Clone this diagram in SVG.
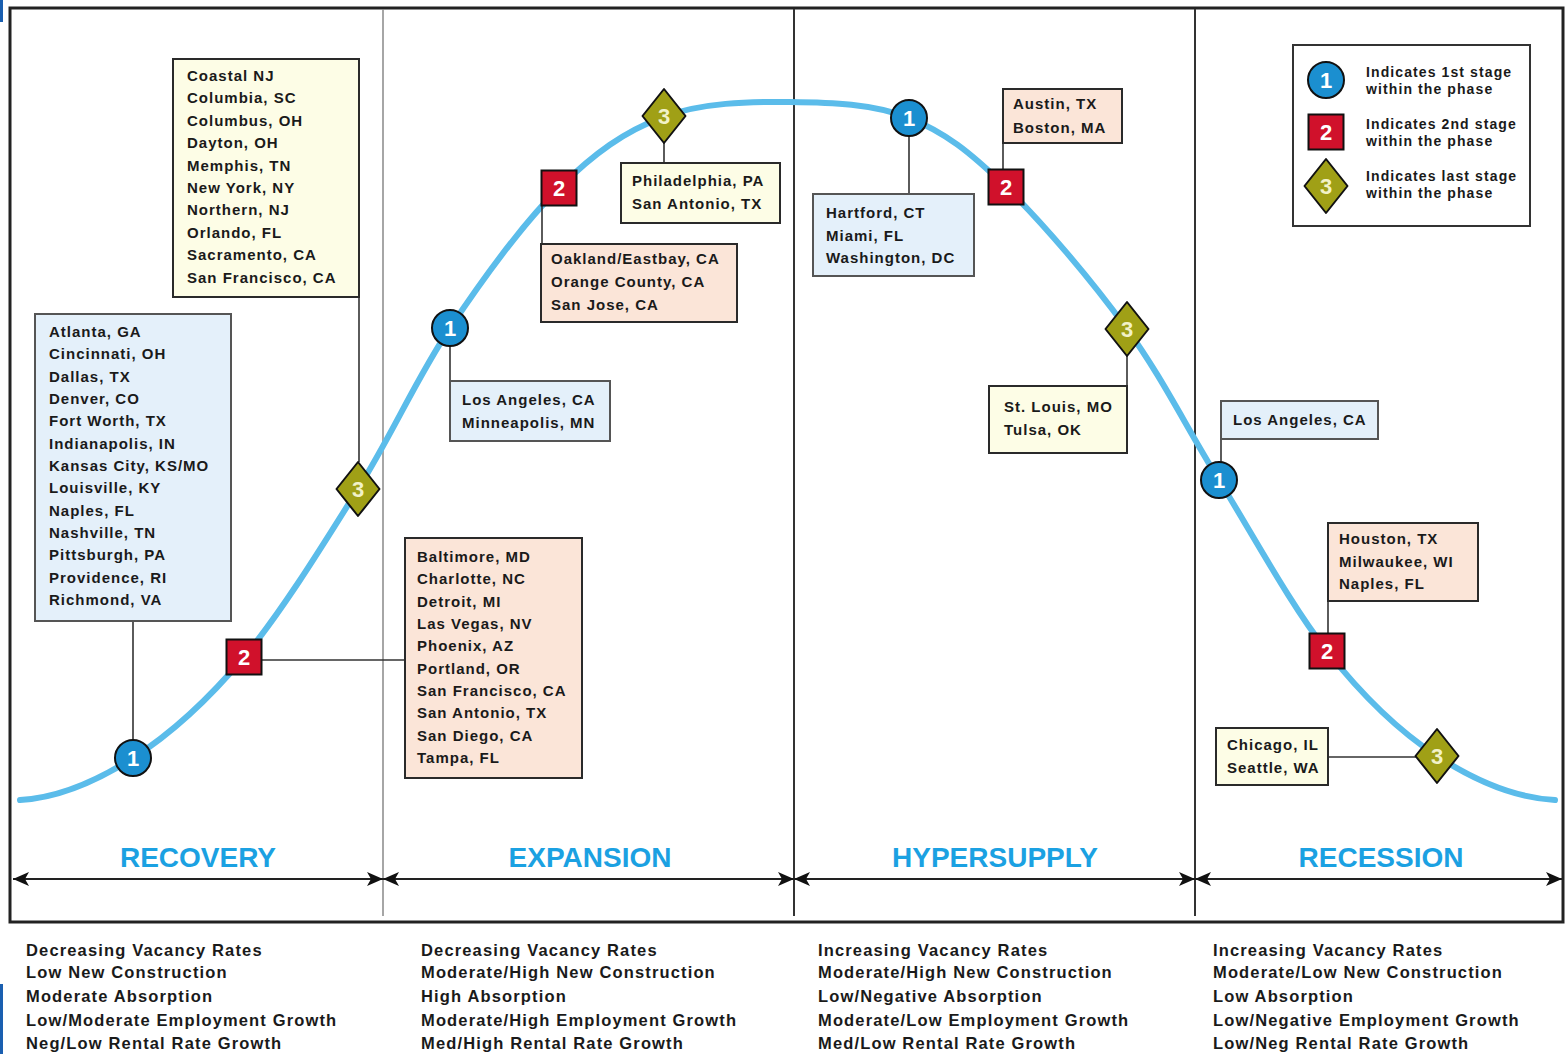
<svg xmlns="http://www.w3.org/2000/svg" width="1566" height="1054" viewBox="0 0 1566 1054">
<style>
.city{font-family:"Liberation Sans",Arial,sans-serif;font-weight:bold;font-size:15px;letter-spacing:1px;fill:#1a1a1a}
.leg{font-family:"Liberation Sans",Arial,sans-serif;font-weight:bold;font-size:14px;letter-spacing:1.1px;fill:#1a1a1a}
.desc{font-family:"Liberation Sans",Arial,sans-serif;font-weight:bold;font-size:16.5px;letter-spacing:1.15px;fill:#1a1a1a}
.phase{font-family:"Liberation Sans",Arial,sans-serif;font-weight:bold;font-size:28px;fill:#1ba1e2;text-anchor:middle}
.num{font-family:"Liberation Sans",Arial,sans-serif;font-weight:bold;font-size:22px;fill:#fff;text-anchor:middle}
.num3{font-family:"Liberation Sans",Arial,sans-serif;font-weight:bold;font-size:22px;fill:#f2f2c8;text-anchor:middle}
.cream{fill:#fdfde6;stroke:#2a2a2a;stroke-width:2}
.blue{fill:#e4f0fa;stroke:#555;stroke-width:2}
.peach{fill:#fbe5d8;stroke:#2a2a2a;stroke-width:2}
.c1{fill:#1b8fd0;stroke:#111;stroke-width:2}
.c2{fill:#d0112b;stroke:#111;stroke-width:2}
.c3{fill:#a0a016;stroke:#111;stroke-width:2;stroke-linejoin:round}
.lead{stroke:#333;stroke-width:1.6;fill:none}
.div{stroke:#333;stroke-width:2}
.axis{stroke:#222;stroke-width:1.8;marker-start:url(#ah);marker-end:url(#ah)}
</style>
<defs>
<marker id="ah" viewBox="-17 -9 18 18" refX="0" refY="0" markerWidth="18" markerHeight="18" markerUnits="userSpaceOnUse" orient="auto-start-reverse">
<path d="M0,0 L-16,-7 L-12,0 L-16,7 Z" fill="#111"/>
</marker>
<circle id="m1" r="18" class="c1"/>
<rect id="m2" x="-17.5" y="-17.5" width="35" height="35" class="c2"/>
<path id="m3" d="M0,-27 L21.5,0 L0,27 L-21.5,0 Z" class="c3"/>
</defs>
<rect x="0" y="0" width="1566" height="1054" fill="#fff"/>
<rect x="0" y="0" width="3" height="22" fill="#1a5fb0"/>
<rect x="0" y="984" width="3" height="70" fill="#1a5fb0"/>
<g id="frame">
<rect x="10" y="8" width="1553" height="914" fill="none" stroke="#222" stroke-width="3"/>
<line x1="383" y1="9" x2="383" y2="916" stroke="#888" stroke-width="1.5"/>
<line x1="794" y1="9" x2="794" y2="916" class="div"/>
<line x1="1195" y1="9" x2="1195" y2="916" class="div"/>
</g>
<g id="axis">
<line x1="13" y1="879" x2="383" y2="879" class="axis"/>
<line x1="383" y1="879" x2="794" y2="879" class="axis"/>
<line x1="794" y1="879" x2="1195" y2="879" class="axis"/>
<line x1="1195" y1="879" x2="1562" y2="879" class="axis"/>
<text class="phase" x="198" y="867">RECOVERY</text>
<text class="phase" x="590" y="867">EXPANSION</text>
<text class="phase" x="995" y="867">HYPERSUPPLY</text>
<text class="phase" x="1381" y="867">RECESSION</text>
</g>
<g id="curve">
<path d="M20,800 C58,798 95.7,781.8 133,758 C170.3,734.2 206.5,701.8 244,657 C281.5,612.2 323.7,543.8 358,489 C392.3,434.2 416.5,378.2 450,328 C483.5,277.8 523.5,223.2 559,188 C594.5,152.8 624.5,131.5 663,117 C701.5,102.5 749,101.5 790,102 C831,102.5 873,103.7 909,118 C945,132.3 969.7,151.8 1006,187 C1042.3,222.2 1091.5,280.2 1127,329 C1162.5,377.8 1185.7,426.3 1219,480 C1252.3,533.7 1290.7,605 1327,651 C1363.3,697 1399,731.2 1437,756 C1475,780.8 1517,798 1555,800" fill="none" stroke="#5bbcea" stroke-width="6" stroke-linecap="round"/>
</g>
<g id="connectors">
<line class="lead" x1="359" y1="297" x2="359" y2="462"/>
<line class="lead" x1="133" y1="621" x2="133" y2="740"/>
<line class="lead" x1="262" y1="660" x2="405" y2="660"/>
<line class="lead" x1="450" y1="346" x2="450" y2="381"/>
<line class="lead" x1="542" y1="205" x2="542" y2="244"/>
<line class="lead" x1="664" y1="143" x2="664" y2="163"/>
<line class="lead" x1="909" y1="136" x2="909" y2="194"/>
<line class="lead" x1="1003" y1="143" x2="1003" y2="170"/>
<line class="lead" x1="1127" y1="356" x2="1127" y2="386"/>
<line class="lead" x1="1221" y1="440" x2="1221" y2="462"/>
<line class="lead" x1="1328" y1="601" x2="1328" y2="634"/>
<line class="lead" x1="1328" y1="757" x2="1416" y2="757"/>
</g>
<g id="box-coastal">
<rect class="cream" x="173" y="59" width="186" height="238"/>
<text class="city"><tspan x="187" y="81">Coastal NJ</tspan><tspan x="187" dy="22.4">Columbia, SC</tspan><tspan x="187" dy="22.4">Columbus, OH</tspan><tspan x="187" dy="22.4">Dayton, OH</tspan><tspan x="187" dy="22.4">Memphis, TN</tspan><tspan x="187" dy="22.4">New York, NY</tspan><tspan x="187" dy="22.4">Northern, NJ</tspan><tspan x="187" dy="22.4">Orlando, FL</tspan><tspan x="187" dy="22.4">Sacramento, CA</tspan><tspan x="187" dy="22.4">San Francisco, CA</tspan></text>
</g>
<g id="box-atlanta">
<rect class="blue" x="35" y="314" width="196" height="307"/>
<text class="city"><tspan x="49" y="337">Atlanta, GA</tspan><tspan x="49" dy="22.33">Cincinnati, OH</tspan><tspan x="49" dy="22.33">Dallas, TX</tspan><tspan x="49" dy="22.33">Denver, CO</tspan><tspan x="49" dy="22.33">Fort Worth, TX</tspan><tspan x="49" dy="22.33">Indianapolis, IN</tspan><tspan x="49" dy="22.33">Kansas City, KS/MO</tspan><tspan x="49" dy="22.33">Louisville, KY</tspan><tspan x="49" dy="22.33">Naples, FL</tspan><tspan x="49" dy="22.33">Nashville, TN</tspan><tspan x="49" dy="22.33">Pittsburgh, PA</tspan><tspan x="49" dy="22.33">Providence, RI</tspan><tspan x="49" dy="22.33">Richmond, VA</tspan></text>
</g>
<g id="box-baltimore">
<rect class="peach" x="405" y="538" width="177" height="240"/>
<text class="city"><tspan x="417" y="562">Baltimore, MD</tspan><tspan x="417" dy="22.33">Charlotte, NC</tspan><tspan x="417" dy="22.33">Detroit, MI</tspan><tspan x="417" dy="22.33">Las Vegas, NV</tspan><tspan x="417" dy="22.33">Phoenix, AZ</tspan><tspan x="417" dy="22.33">Portland, OR</tspan><tspan x="417" dy="22.33">San Francisco, CA</tspan><tspan x="417" dy="22.33">San Antonio, TX</tspan><tspan x="417" dy="22.33">San Diego, CA</tspan><tspan x="417" dy="22.33">Tampa, FL</tspan></text>
</g>
<g id="box-losangeles-exp">
<rect class="blue" x="450" y="381" width="160" height="60"/>
<text class="city"><tspan x="462" y="405">Los Angeles, CA</tspan><tspan x="462" dy="23">Minneapolis, MN</tspan></text>
</g>
<g id="box-oakland">
<rect class="peach" x="541" y="244" width="196" height="78"/>
<text class="city"><tspan x="551" y="264">Oakland/Eastbay, CA</tspan><tspan x="551" dy="23">Orange County, CA</tspan><tspan x="551" dy="23">San Jose, CA</tspan></text>
</g>
<g id="box-philadelphia">
<rect class="cream" x="621" y="163" width="159" height="60"/>
<text class="city"><tspan x="632" y="186">Philadelphia, PA</tspan><tspan x="632" dy="23">San Antonio, TX</tspan></text>
</g>
<g id="box-hartford">
<rect class="blue" x="813" y="194" width="161" height="82"/>
<text class="city"><tspan x="826" y="218">Hartford, CT</tspan><tspan x="826" dy="23">Miami, FL</tspan><tspan x="826" dy="22">Washington, DC</tspan></text>
</g>
<g id="box-austin">
<rect class="peach" x="1003" y="89" width="119" height="54"/>
<text class="city"><tspan x="1013" y="109">Austin, TX</tspan><tspan x="1013" dy="24">Boston, MA</tspan></text>
</g>
<g id="box-stlouis">
<rect class="cream" x="989" y="386" width="138" height="67"/>
<text class="city"><tspan x="1004" y="412">St. Louis, MO</tspan><tspan x="1004" dy="23">Tulsa, OK</tspan></text>
</g>
<g id="box-losangeles-rec">
<rect class="blue" x="1221" y="401" width="157" height="38"/>
<text class="city" x="1233" y="425">Los Angeles, CA</text>
</g>
<g id="box-houston">
<rect class="peach" x="1328" y="523" width="150" height="78"/>
<text class="city"><tspan x="1339" y="544">Houston, TX</tspan><tspan x="1339" dy="22.5">Milwaukee, WI</tspan><tspan x="1339" dy="22.5">Naples, FL</tspan></text>
</g>
<g id="box-chicago">
<rect class="cream" x="1216" y="728" width="112" height="57"/>
<text class="city"><tspan x="1227" y="750">Chicago, IL</tspan><tspan x="1227" dy="23">Seattle, WA</tspan></text>
</g>
<g id="markers">
<g id="r1" transform="translate(133,758)"><use href="#m1"/><text class="num" y="8">1</text></g>
<g id="r2" transform="translate(244,657)"><use href="#m2"/><text class="num" y="8">2</text></g>
<g id="r3" transform="translate(358,489)"><use href="#m3"/><text class="num3" y="8">3</text></g>
<g id="e1" transform="translate(450,328)"><use href="#m1"/><text class="num" y="8">1</text></g>
<g id="e2" transform="translate(559,188)"><use href="#m2"/><text class="num" y="8">2</text></g>
<g id="e3" transform="translate(664,116)"><use href="#m3"/><text class="num3" y="8">3</text></g>
<g id="h1" transform="translate(909,118)"><use href="#m1"/><text class="num" y="8">1</text></g>
<g id="h2" transform="translate(1006,187)"><use href="#m2"/><text class="num" y="8">2</text></g>
<g id="h3" transform="translate(1127,329)"><use href="#m3"/><text class="num3" y="8">3</text></g>
<g id="c1" transform="translate(1219,480)"><use href="#m1"/><text class="num" y="8">1</text></g>
<g id="c2" transform="translate(1327,651)"><use href="#m2"/><text class="num" y="8">2</text></g>
<g id="c3" transform="translate(1437,756)"><use href="#m3"/><text class="num3" y="8">3</text></g>
</g>
<g id="legend">
<rect x="1293" y="45" width="237" height="181" fill="#fff" stroke="#333" stroke-width="2"/>
<g transform="translate(1326,80)"><use href="#m1"/><text class="num" y="8">1</text></g>
<g transform="translate(1326,132)"><use href="#m2"/><text class="num" y="8">2</text></g>
<g transform="translate(1326,186)"><use href="#m3"/><text class="num3" y="8">3</text></g>
<text class="leg"><tspan x="1366" y="77">Indicates 1st stage</tspan><tspan x="1366" dy="17">within the phase</tspan></text>
<text class="leg"><tspan x="1366" y="129">Indicates 2nd stage</tspan><tspan x="1366" dy="17">within the phase</tspan></text>
<text class="leg"><tspan x="1366" y="181">Indicates last stage</tspan><tspan x="1366" dy="17">within the phase</tspan></text>
</g>
<g id="descriptions">
<text class="desc"><tspan x="26" y="956">Decreasing Vacancy Rates</tspan><tspan x="26" y="978">Low New Construction</tspan><tspan x="26" y="1002">Moderate Absorption</tspan><tspan x="26" y="1026">Low/Moderate Employment Growth</tspan><tspan x="26" y="1049">Neg/Low Rental Rate Growth</tspan></text>
<text class="desc"><tspan x="421" y="956">Decreasing Vacancy Rates</tspan><tspan x="421" y="978">Moderate/High New Construction</tspan><tspan x="421" y="1002">High Absorption</tspan><tspan x="421" y="1026">Moderate/High Employment Growth</tspan><tspan x="421" y="1049">Med/High Rental Rate Growth</tspan></text>
<text class="desc"><tspan x="818" y="956">Increasing Vacancy Rates</tspan><tspan x="818" y="978">Moderate/High New Construction</tspan><tspan x="818" y="1002">Low/Negative Absorption</tspan><tspan x="818" y="1026">Moderate/Low Employment Growth</tspan><tspan x="818" y="1049">Med/Low Rental Rate Growth</tspan></text>
<text class="desc"><tspan x="1213" y="956">Increasing Vacancy Rates</tspan><tspan x="1213" y="978">Moderate/Low New Construction</tspan><tspan x="1213" y="1002">Low Absorption</tspan><tspan x="1213" y="1026">Low/Negative Employment Growth</tspan><tspan x="1213" y="1049">Low/Neg Rental Rate Growth</tspan></text>
</g>
</svg>
